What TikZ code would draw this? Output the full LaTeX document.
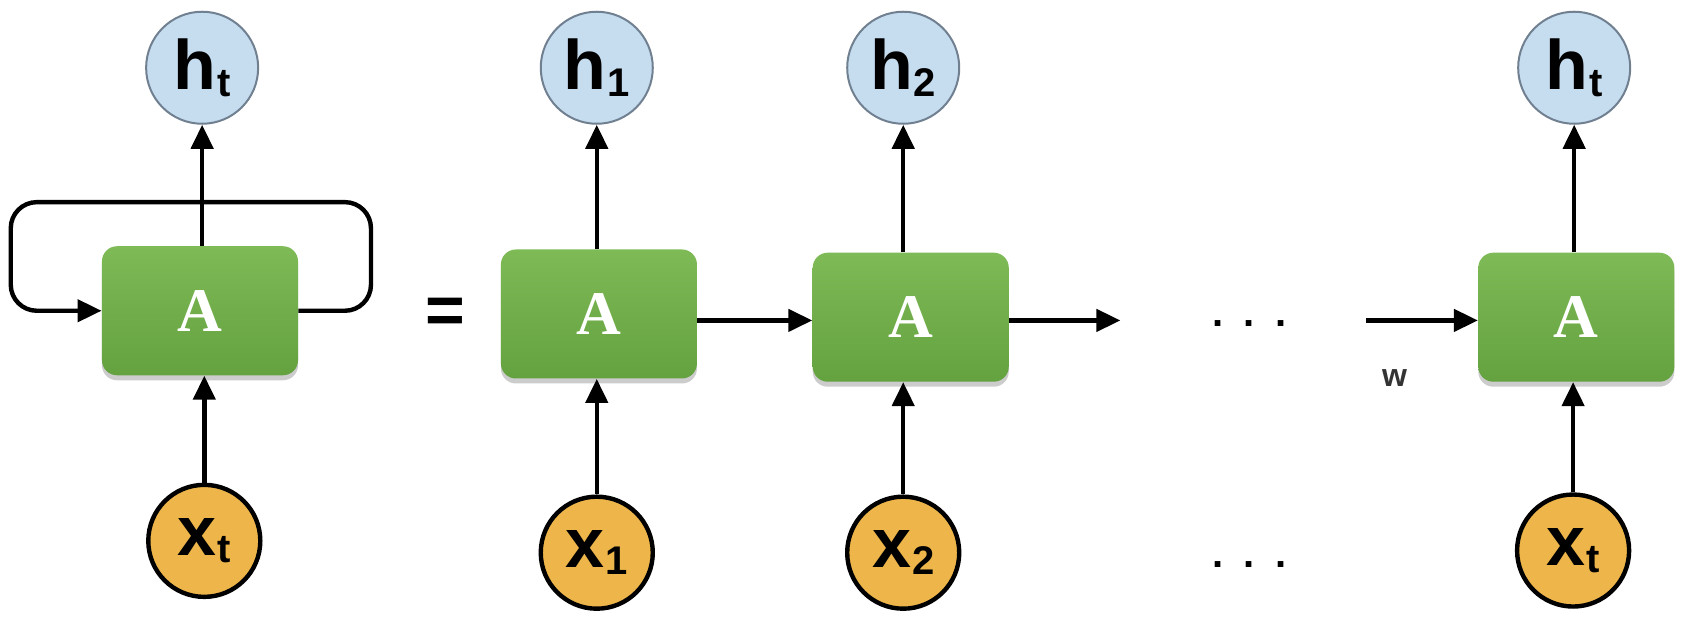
\documentclass[tikz,border=0pt]{standalone}
\usepackage{fontspec}
\setmainfont{Liberation Serif}
\setsansfont{Liberation Sans}
\usetikzlibrary{arrows.meta,shadows}
\definecolor{boxtop}{RGB}{126,186,86}
\definecolor{boxbot}{RGB}{100,162,64}
\definecolor{hfill}{RGB}{198,221,240}
\definecolor{hdraw}{RGB}{112,128,144}
\definecolor{xfill}{RGB}{238,182,74}
\newcommand\sublab[2]{#1\hspace{0.5pt}\raisebox{-3.5pt}{\fontsize{20}{20}\selectfont #2}}
\begin{document}
\begin{tikzpicture}[x=0.5375pt,y=-0.5375pt,
  cell/.style={rounded corners=7.5pt, minimum width=98pt, minimum height=64.5pt,
    top color=boxtop, bottom color=boxbot, draw=none, text=white,
    font=\bfseries\fontsize{31}{31}\selectfont,
    drop shadow={opacity=0.4, shadow xshift=0pt, shadow yshift=-2.5pt}},
  hnode/.style={circle, minimum size=56pt, inner sep=0pt, fill=hfill, draw=hdraw,
    line width=1pt, font=\sffamily\bfseries\fontsize{35}{35}\selectfont},
  xnode/.style={circle, minimum size=56pt, inner sep=0pt, fill=xfill, draw=black,
    line width=2.2pt, font=\sffamily\bfseries\fontsize{35}{35}\selectfont},
  arr/.style={line width=2.2pt, -{Triangle[length=12pt,width=11pt]}},
  dots/.style={font=\sffamily\bfseries\fontsize{20}{20}\selectfont, anchor=base, inner sep=0pt},
]
\useasboundingbox (0,0) rectangle (1568,582);

% column 1 (folded)
\node[hnode] (ht) at (188,63) {\sublab{h}{t}};
\node[cell] (b1) at (186,289) {A};
\node[xnode] (xt) at (190,503) {\sublab{x}{t}};

\node[font=\sffamily\bfseries\fontsize{34}{34}\selectfont] (eq) at (414,294) {=};

% unrolled
\node[hnode] (h1) at (555,63) {\sublab{h}{1}};
\node[cell] (b2) at (557,292) {A};
\node[xnode] (x1) at (555,514) {\sublab{x}{1}};

\node[hnode] (h2) at (840,63) {\sublab{h}{2}};
\node[cell] (b3) at (847,295) {A};
\node[xnode] (x2) at (840,514) {\sublab{x}{2}};

\node[hnode] (hT) at (1464,63) {\sublab{h}{t}};
\node[cell] (b4) at (1466,295) {A};
\node[xnode] (xT) at (1463,512) {\sublab{x}{t}};

\node[dots] (d1) at (1162,304) {.\hspace{10pt}.\hspace{10pt}.};
\node[dots] (d2) at (1162,528) {.\hspace{10pt}.\hspace{10pt}.};

\coordinate (lr) at (345,188);
\coordinate (ll) at (10,188);
\coordinate (e3) at (1042,298);
\coordinate (s4) at (1270,298);

\node[font=\sffamily\bfseries\fontsize{16}{16}\selectfont, text=black!80] (w) at (1297,352) {w};

% loop
\draw[arr, rounded corners=13pt] (b1.east) -| (lr) -- (ll) |- (b1.west);

% vertical arrows
\draw[arr] (b1.north -| ht.south) -- (ht.south);
\draw[arr] (xt.north) -- (xt.north |- b1.south);
\draw[arr] (b2.north -| h1.south) -- (h1.south);
\draw[arr] (x1.north) -- (x1.north |- b2.south);
\draw[arr] (b3.north -| h2.south) -- (h2.south);
\draw[arr] (x2.north) -- (x2.north |- b3.south);
\draw[arr] (b4.north -| hT.south) -- (hT.south);
\draw[arr] (xT.north) -- (xT.north |- b4.south);

% horizontal arrows
\draw[arr] (b2.east |- 0,298) -- (b3.west |- 0,298);
\draw[arr] (b3.east |- e3) -- (e3);
\draw[arr] (s4) -- (b4.west |- s4);
\end{tikzpicture}
\end{document}
